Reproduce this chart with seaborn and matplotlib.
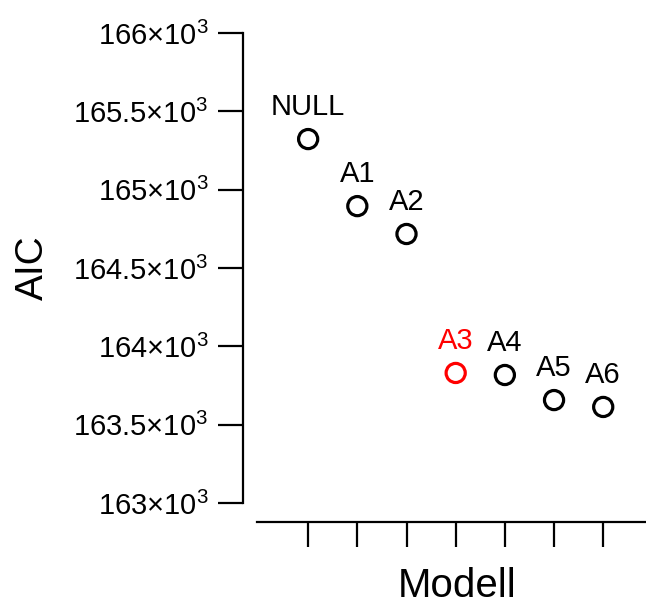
import matplotlib
matplotlib.use("Agg")
import matplotlib.pyplot as plt
import seaborn as sns
import pandas as pd
from matplotlib.ticker import FixedLocator, FuncFormatter

models = ["NULL", "A1", "A2", "A3", "A4", "A5", "A6"]
aic = [165323, 164895, 164717, 163830, 163817, 163657, 163613]
colors = ["black", "black", "black", "red", "black", "black", "black"]
yticks = [163000, 163500, 164000, 164500, 165000, 165500, 166000]

sns.set_theme(style="ticks")
plt.rcParams["font.family"] = ["Liberation Sans", "DejaVu Sans"]
plt.rcParams["mathtext.fontset"] = "custom"
plt.rcParams["mathtext.rm"] = "Liberation Sans"
plt.rcParams["mathtext.it"] = "Liberation Sans"
plt.rcParams["mathtext.bf"] = "Liberation Sans"

df = pd.DataFrame({"model": models, "aic": aic, "pos": range(1, len(models) + 1),
                   "color": colors})

fig = plt.figure(figsize=(6.46, 6.06), dpi=100)
W, H = 646, 606
ax = fig.add_axes([257 / W, (H - 503) / H, (646 - 257) / W, (503 - 33) / H])

palette = {"black": "black", "red": "red"}
sns.scatterplot(data=df, x="pos", y="aic", hue="color", palette=palette,
                ax=ax, s=190, facecolors="none", linewidth=2.3,
                marker="o", legend=False)
coll = ax.collections[0]
coll.set_edgecolors([palette[c] for c in df["color"]])
coll.set_facecolors("none")

for _, r in df.iterrows():
    ax.annotate(r["model"], (r["pos"], r["aic"]), xytext=(0, 13),
                textcoords="offset points", ha="center", va="bottom",
                fontsize=21, color=r["color"])

ax.set_xlim(-0.04, 7.87)
ax.set_ylim(163000, 166000)
ax.xaxis.set_major_locator(FixedLocator(list(df["pos"])))
ax.set_xticklabels([])
ax.yaxis.set_major_locator(FixedLocator(yticks))
ax.yaxis.set_major_formatter(
    FuncFormatter(lambda v, p: f"{v/1000:g}×10$^{{\\mathrm{{3}}}}$"))

for s in ["top", "right"]:
    ax.spines[s].set_visible(False)
ax.spines["left"].set_position(("outward", 10))
ax.spines["bottom"].set_position(("outward", 13.7))
for s in ["left", "bottom"]:
    ax.spines[s].set_linewidth(1.6)
    ax.spines[s].set_color("black")
ax.spines["left"].set_bounds(163000, 166000)
ax.tick_params(axis="both", length=18, width=1.6, color="black",
               labelsize=21, pad=7, labelcolor="black")

ax.set_xlabel("Modell", fontsize=29, color="black")
ax.set_ylabel("AIC", fontsize=28, color="black")
ax.xaxis.set_label_coords(0.514, -0.137)
ax.yaxis.set_label_coords(-0.53, 0.5)

fig.savefig("out.png", dpi=100)
